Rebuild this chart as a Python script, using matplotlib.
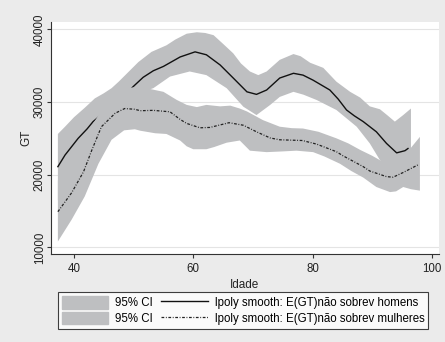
import matplotlib
matplotlib.use("Agg")
import matplotlib.pyplot as plt
from matplotlib.patches import Patch
from matplotlib.lines import Line2D
import numpy as np

plt.rcParams['font.family'] = ['Liberation Sans', 'DejaVu Sans']

# lpoly homens (linha e banda de 95%)
x_hom = [37.3, 38.5, 40.7, 42.2, 43.2, 44.5, 46, 47.5, 49, 49.9, 51.6, 53.3, 55, 57.8, 60.3, 62.2,
         64.5, 66.7, 69, 70.6, 72.3, 74.5, 76.8, 78.4, 80.1, 82.9, 84.3, 85.7, 87, 88.5, 90.7, 92.4,
         94.1, 95.5, 96]
y_hom = [21100, 22700, 25000, 26300, 27300, 28200, 29300, 30300, 31300, 32100, 33400, 34300, 34900,
         36200, 36900, 36500, 35100, 33300, 31400, 31050, 31650, 33300, 33950, 33700, 33000, 31650,
         30400, 28900, 28100, 27300, 25900, 24300, 23000, 23300, 23600]

x_hom_sup = [37.3, 38.5, 40, 41.8, 43.5, 45, 46.3, 47.5, 48.6, 50.8, 53, 55.5, 57, 58.9, 60.6, 62,
             63.4, 65, 66.7, 68, 69.5, 70.9, 72.3, 74.5, 76.8, 78, 79.6, 81.8, 84, 86.3, 88, 89.6,
             91.3, 92.5, 93.8, 95.2, 96.5]
y_hom_sup = [25600, 26600, 27900, 29200, 30500, 31200, 31900, 32800, 33700, 35500, 36900, 37800,
             38600, 39400, 39600, 39500, 39200, 38000, 36700, 35300, 34200, 33700, 34200, 35800,
             36600, 36300, 35400, 34700, 32800, 31400, 30600, 29400, 29000, 28200, 27300, 28200, 29100]

x_hom_inf = [37.3, 38.5, 40, 41.5, 43, 44.5, 46, 48, 50, 51.5, 53.3, 56.1, 59.4, 62.2, 65.6, 68.4,
             70.6, 72.9, 74.5, 76.8, 78.5, 80.7, 84, 87.4, 89.6, 91.3, 92.5, 94, 95.5, 96.5]
y_hom_inf = [16500, 18000, 20000, 21800, 23500, 25200, 26900, 29000, 30800, 31400, 31900, 33500,
             34200, 33700, 31900, 29350, 28200, 29600, 30700, 31400, 31000, 30270, 28900, 26600,
             24300, 22000, 20800, 19500, 18700, 18200]

# lpoly mulheres
x_mul = [37.3, 39.6, 41.6, 43, 44.6, 46.9, 48.5, 50.2, 51.1, 53.3, 56.1, 57.8, 58.9, 61.1, 62.8, 66,
         68.4, 70.6, 72.9, 74.5, 78.3, 80.7, 84, 85.1, 88.5, 89.6, 92.4, 93.5, 95.2, 97.8]
y_mul = [14900, 17500, 20400, 23400, 26600, 28450, 29100, 29000, 28800, 28850, 28650, 27600, 27050,
         26450, 26500, 27150, 26800, 25900, 25050, 24800, 24700, 24200, 23160, 22600, 21100, 20500,
         19730, 19650, 20300, 21400]

x_mul_sup = [37.3, 39, 41, 43.4, 45, 47, 49, 50.5, 52.7, 55, 57.2, 58.9, 60.6, 62.2, 64.5, 66.2,
             67.8, 69, 71.7, 74.5, 76.5, 78.4, 81, 84, 86, 88, 90, 91.5, 93, 94.5, 96.5, 98]
y_mul_sup = [19200, 21000, 24000, 27300, 29300, 31000, 31900, 32100, 31800, 31400, 30300, 29600,
             29300, 29600, 29400, 29500, 29100, 28700, 27500, 26600, 26400, 26350, 25900, 25000,
             24300, 23400, 22600, 21900, 21800, 22300, 23700, 25200]

x_mul_inf = [37.3, 39.6, 41.8, 44.1, 46.3, 48.4, 50.2, 51.1, 53.6, 55.5, 57.8, 58.9, 60, 62.2, 63.5,
             65.6, 67.8, 69.5, 72.3, 75, 77.3, 80.1, 82, 84.6, 86.5, 88.5, 90.7, 93, 94, 95.2, 96.5, 98]
y_mul_inf = [10800, 13800, 17000, 21500, 24800, 26100, 26250, 26050, 25700, 25600, 24700, 23900,
             23500, 23500, 23800, 24400, 24700, 23300, 23100, 23200, 23300, 23100, 22500, 21500,
             20500, 19600, 18300, 17600, 17700, 18300, 18000, 17800]

xticks = [40, 60, 80, 100]
yticks = [10000, 20000, 30000, 40000]

cinza = '#BEBFC1'
fundo = '#EBEBEB'
estilo_mul = (0, (2.2, 1.3, 0.7, 1.3))


def banda(ax, xs, ys, xi, yi, z):   # poligono do intervalo de confianca
    px = np.concatenate([xs, xi[::-1]])
    py = np.concatenate([ys, yi[::-1]])
    ax.fill(px, py, color=cinza, lw=0, zorder=z)


fig = plt.figure(figsize=(4.45, 3.42), dpi=100, facecolor=fundo)
ax = fig.add_axes([0.114, 0.2564, 0.8725, 0.68])
ax.set_facecolor('white')

for y in yticks:
    ax.axhline(y, color='#E4E4E4', lw=0.8, zorder=0)

# ordem do stata: banda H, linha H, banda M, linha M
banda(ax, x_hom_sup, y_hom_sup, x_hom_inf, y_hom_inf, 1)
ax.plot(x_hom, y_hom, color='#111111', lw=1.0, zorder=2)
banda(ax, x_mul_sup, y_mul_sup, x_mul_inf, y_mul_inf, 3)
ax.plot(x_mul, y_mul, color='#222222', lw=0.9, linestyle=estilo_mul, zorder=4)

ax.set_xlim(36.1, 101.2)
ax.set_ylim(9037, 41045)
ax.set_xticks(xticks)
ax.set_yticks(yticks)
ax.tick_params(axis='both', direction='out', length=3, width=0.8, color='#333333',
               labelsize=8.3, labelcolor='#222222')
ax.tick_params(axis='x', pad=3)
ax.tick_params(axis='y', pad=0.5)
for lab in ax.get_yticklabels():
    lab.set_rotation(90)
    lab.set_va('center')

for s in ['top', 'right']:
    ax.spines[s].set_visible(False)
for s in ['left', 'bottom']:
    ax.spines[s].set_color('#333333')
    ax.spines[s].set_linewidth(0.8)

ax.set_xlabel('Idade', fontsize=8.5, color='#222222', labelpad=3)
ax.set_ylabel('GT', fontsize=8.5, color='#222222', labelpad=1)

handles = [Patch(color=cinza), Patch(color=cinza),
           Line2D([], [], color='#111111', lw=1.0),
           Line2D([], [], color='#222222', lw=0.9, linestyle=estilo_mul)]
labels = ['95% CI', '95% CI',
          'lpoly smooth: E(GT)não sobrev homens',
          'lpoly smooth: E(GT)não sobrev mulheres']
leg = fig.legend(handles, labels, ncol=2, loc='upper left',
                 bbox_to_anchor=(0.131, 0.0, 0.8315, 0.1453), mode='expand',
                 fontsize=8.3, frameon=True, fancybox=False, edgecolor='#111111',
                 handlelength=4.0, handleheight=1.3, handletextpad=0.6, columnspacing=0.3,
                 labelspacing=0.2, borderpad=0.35, borderaxespad=0)
leg.get_frame().set_linewidth(0.8)

fig.savefig('out.png', dpi=100, facecolor=fundo)
